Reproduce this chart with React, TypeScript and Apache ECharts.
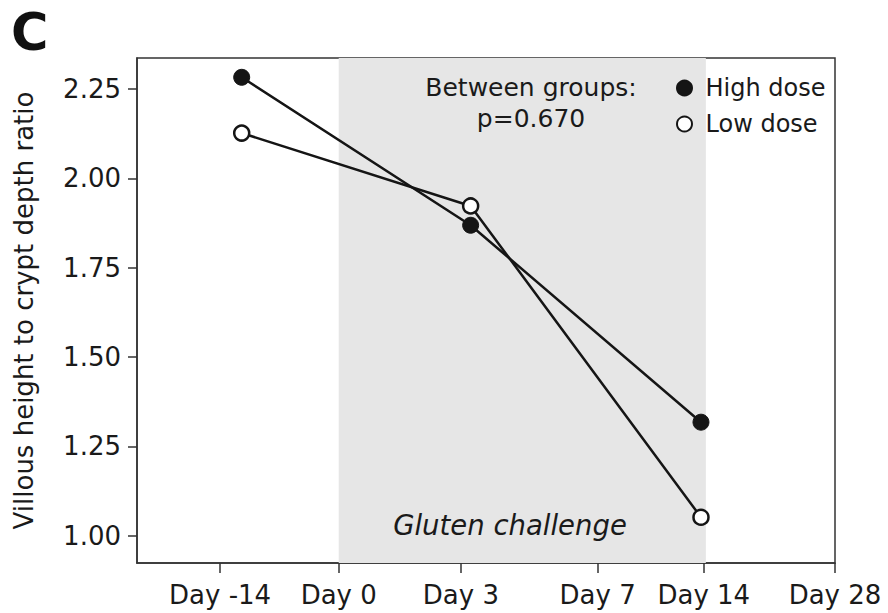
import React, { useEffect, useRef } from "react";
import * as echarts from "echarts";

// x positions are axis positions (percent of the axis width) for each time label
const tickLabels = ["Day -14", "Day 0", "Day 3", "Day 7", "Day 14", "Day 28"];
const tickPositions = [11.9, 28.9, 46.4, 66.0, 81.2, 100];
const pointPositions = [15.0, 47.8, 80.8];
const highDose = [2.283, 1.869, 1.318];
const lowDose = [2.127, 1.923, 1.052];
const challengeStart = 28.9;
const challengeEnd = 81.5;
const yTicks = [1.0, 1.25, 1.5, 1.75, 2.0, 2.25];

const FONT = "DejaVu Sans, Liberation Sans, Arial, sans-serif";

export default function App() {
  const ref = useRef<HTMLDivElement>(null);
  useEffect(() => {
    document.body.style.margin = "0";
    const chart = echarts.init(ref.current!, null, { renderer: "svg" });
    const labelMap: Record<string, string> = {};
    tickPositions.forEach((p, i) => (labelMap[String(p)] = tickLabels[i]));
    chart.setOption({
      animation: false,
      backgroundColor: "#ffffff",
      textStyle: { fontFamily: FONT },
      grid: {
        left: 137,
        right: 53,
        top: 58,
        bottom: 50,
        show: true,
        borderColor: "#333",
        borderWidth: 1.5,
        backgroundColor: "transparent",
      },
      legend: {
        orient: "vertical",
        left: 671,
        top: 71,
        itemWidth: 32,
        itemHeight: 15,
        itemGap: 12,
        textStyle: { fontSize: 24, color: "#1a1a1a", fontFamily: FONT },
        data: [
          { name: "High dose", icon: "circle" },
          { name: "Low dose", icon: "circle" },
        ],
      },
      xAxis: {
        type: "value",
        min: 0,
        max: 100,
        splitLine: { show: false },
        axisLine: { show: true, lineStyle: { color: "#333", width: 1.5 } },
        axisTick: {
          show: true,
          customValues: tickPositions,
          length: 10,
          lineStyle: { color: "#333", width: 1.5 },
        },
        axisLabel: {
          customValues: tickPositions,
          formatter: (v: number) => labelMap[String(v)] ?? "",
          fontSize: 26,
          color: "#1a1a1a",
          margin: 19,
          fontFamily: FONT,
        },
      },
      yAxis: {
        type: "value",
        min: 0.924,
        max: 2.337,
        name: "Villous height to crypt depth ratio",
        nameLocation: "middle",
        nameRotate: 90,
        nameGap: 100,
        nameTextStyle: { fontSize: 26, color: "#1a1a1a", fontFamily: FONT },
        splitLine: { show: false },
        axisLine: { show: true, lineStyle: { color: "#333", width: 1.5 } },
        axisTick: {
          show: true,
          customValues: yTicks,
          length: 9,
          lineStyle: { color: "#333", width: 1.5 },
        },
        axisLabel: {
          customValues: yTicks,
          formatter: (v: number) => v.toFixed(2),
          fontSize: 26,
          color: "#1a1a1a",
          margin: 16,
          fontFamily: FONT,
        },
      },
      series: [
        {
          name: "High dose",
          type: "line",
          data: pointPositions.map((x, i) => [x, highDose[i]]),
          symbol: "circle",
          symbolSize: 16,
          lineStyle: { color: "#151515", width: 2.5 },
          itemStyle: { color: "#151515", borderColor: "#151515", borderWidth: 1 },
          z: 3,
          markArea: {
            silent: true,
            itemStyle: { color: "#e6e6e6" },
            data: [[{ xAxis: challengeStart }, { xAxis: challengeEnd }]],
          },
        },
        {
          name: "Low dose",
          type: "line",
          data: pointPositions.map((x, i) => [x, lowDose[i]]),
          symbol: "circle",
          symbolSize: 15,
          lineStyle: { color: "#151515", width: 2.5 },
          itemStyle: { color: "#ffffff", borderColor: "#151515", borderWidth: 2.5 },
          z: 4,
        },
      ],
      graphic: [
        {
          type: "text",
          left: 11,
          top: 7,
          z: 100,
          style: { text: "C", fontSize: 51, fontWeight: "bold", fill: "#111", fontFamily: FONT },
        },
        {
          type: "text",
          x: 531,
          y: 72,
          z: 100,
          style: {
            text: "Between groups:\np=0.670",
            fontSize: 25,
            fill: "#1a1a1a",
            align: "center",
            lineHeight: 31,
            fontFamily: FONT,
          },
        },
        {
          type: "text",
          x: 510,
          y: 511,
          z: 100,
          style: {
            text: "Gluten challenge",
            fontSize: 27.5,
            fontStyle: "italic",
            fill: "#1a1a1a",
            align: "center",
            fontFamily: FONT,
          },
        },
      ],
    });
    return () => chart.dispose();
  }, []);
  return <div ref={ref} style={{ width: 888, height: 613 }} />;
}
